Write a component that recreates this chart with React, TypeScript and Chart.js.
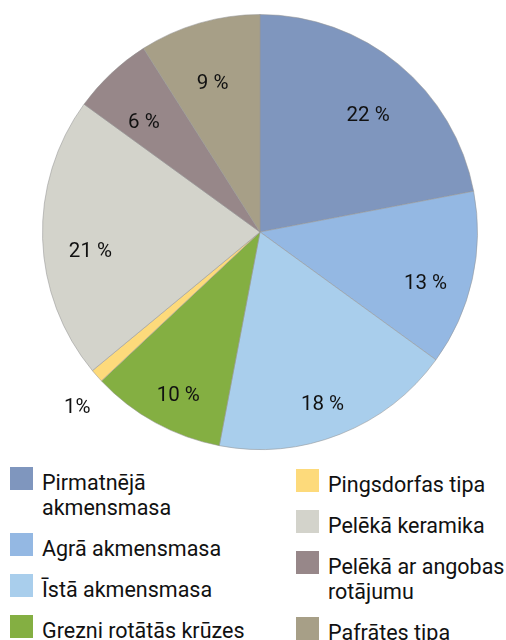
import React, { useEffect, useRef } from "react";
import { Chart, registerables } from "chart.js";

Chart.register(...registerables);

const categories: string[][] = [
  ["Pirmatnējā", "akmensmasa"],
  ["Agrā akmensmasa"],
  ["Īstā akmensmasa"],
  ["Grezni rotātās krūzes"],
  ["Pingsdorfas tipa"],
  ["Pelēkā keramika"],
  ["Pelēkā ar angobas", "rotājumu"],
  ["Pafrātes tipa"],
];
const values: number[] = [22, 13, 18, 10, 1, 21, 6, 9];
const valueLabels: string[] = ["22 %", "13 %", "18 %", "10 %", "1%", "21 %", "6 %", "9 %"];
const colors: string[] = [
  "#7F96BE",
  "#94B8E3",
  "#A9CEEC",
  "#84AF42",
  "#FDDA7B",
  "#D3D3CB",
  "#978789",
  "#A79F87",
];

const FONT = "Roboto, 'Noto Sans', sans-serif";

const labelPlugin = {
  id: "sliceLabels",
  afterDatasetsDraw(chart: any) {
    const ctx = chart.ctx;
    const meta = chart.getDatasetMeta(0);
    const total = values.reduce((a, b) => a + b, 0);
    ctx.save();
    ctx.font = `20.5px ${FONT}`;
    ctx.fillStyle = "#111";
    ctx.textAlign = "center";
    ctx.textBaseline = "middle";
    meta.data.forEach((arc: any, i: number) => {
      const { x, y, startAngle, endAngle, outerRadius } = arc.getProps(
        ["x", "y", "startAngle", "endAngle", "outerRadius"],
        true
      );
      const mid = (startAngle + endAngle) / 2;
      const frac = values[i] / total < 0.02 ? 1.12 : 0.78;
      const r = outerRadius * frac;
      ctx.fillText(valueLabels[i], x + Math.cos(mid) * r, y + Math.sin(mid) * r + 15);
    });
    ctx.restore();
  },
};

function LegendItem({ idx }: { idx: number }) {
  return (
    <div style={{ display: "flex", alignItems: "flex-start" }}>
      <div
        style={{
          width: 23,
          height: 23,
          background: colors[idx],
          marginTop: -3,
          flex: "0 0 auto",
        }}
      />
      <div style={{ marginLeft: 9, whiteSpace: "nowrap" }}>
        {categories[idx].map((l, k) => (
          <div key={k}>{l}</div>
        ))}
      </div>
    </div>
  );
}

export default function App() {
  const ref = useRef<HTMLCanvasElement | null>(null);

  useEffect(() => {
    if (!ref.current) return;
    const chart = new Chart(ref.current, {
      type: "pie",
      data: {
        labels: categories.map((c) => c.join(" ")),
        datasets: [
          {
            data: values,
            backgroundColor: colors,
            borderColor: "rgba(150,150,150,0.55)",
            borderWidth: 1,
            hoverOffset: 0,
          },
        ],
      },
      options: {
        animation: false,
        responsive: false,
        rotation: 0,
        layout: { padding: { left: 42, right: 28, top: 14, bottom: 10 } },
        plugins: {
          legend: { display: false },
          tooltip: { enabled: false },
        },
      },
      plugins: [labelPlugin],
    });
    return () => chart.destroy();
  }, []);

  const left = [0, 1, 2, 3];
  const right = [4, 5, 6, 7];

  return (
    <div
      style={{
        position: "fixed",
        left: 0,
        top: 0,
        width: 506,
        height: 640,
        overflow: "hidden",
        background: "#fff",
        fontFamily: FONT,
        color: "#111",
      }}
    >
      <canvas ref={ref} width={506} height={460} style={{ display: "block" }} />
      <div
        style={{
          position: "absolute",
          left: 10,
          top: 470,
          display: "flex",
          flexDirection: "column",
          gap: 16,
          fontSize: 21.5,
          lineHeight: "25px",
        }}
      >
        {left.map((i) => (
          <LegendItem key={i} idx={i} />
        ))}
      </div>
      <div
        style={{
          position: "absolute",
          left: 296,
          top: 472,
          display: "flex",
          flexDirection: "column",
          gap: 16,
          fontSize: 21.5,
          lineHeight: "25px",
        }}
      >
        {right.map((i) => (
          <LegendItem key={i} idx={i} />
        ))}
      </div>
    </div>
  );
}
